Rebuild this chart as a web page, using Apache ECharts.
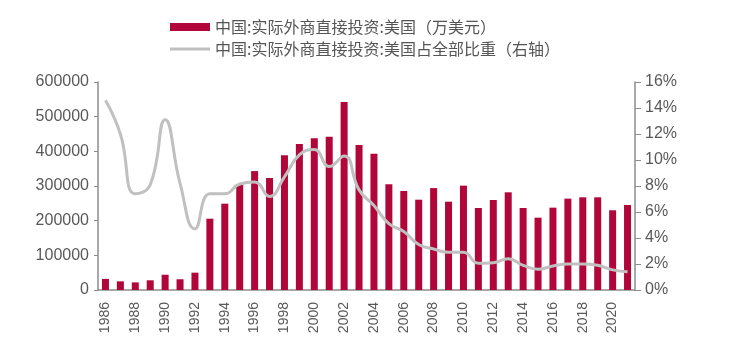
<!DOCTYPE html>
<html><head><meta charset="utf-8">
<script src="https://cdn.jsdelivr.net/npm/echarts@6/dist/echarts.min.js"></script>
<style>html,body{margin:0;padding:0;background:#fff}#c{width:743px;height:362px}</style>
</head><body><div id="c"></div>
<script>
var years = ['1986','1987','1988','1989','1990','1991','1992','1993','1994','1995','1996','1997','1998','1999','2000','2001','2002','2003','2004','2005','2006','2007','2008','2009','2010','2011','2012','2013','2014','2015','2016','2017','2018','2019','2020','2021'];
var fdiUS = [32000,25000,22000,28000,44000,31000,50000,205700,249000,305000,343000,323000,388600,421000,437600,442000,542000,418000,393000,305000,285600,260500,294000,254700,301000,236500,259600,281800,236500,208600,237500,263500,267400,267400,230000,245200];
var shareUS = [14.6,12.0,7.4,8.1,13.1,8.2,4.7,7.4,7.4,8.15,8.3,7.2,8.7,10.4,10.8,9.5,10.3,7.7,6.5,5.1,4.5,3.5,3.15,2.9,2.9,2.05,2.1,2.4,1.9,1.6,1.85,2.0,2.0,1.9,1.55,1.4];
var leftTicks = [0,100000,200000,300000,400000,500000,600000];
var rightTicks = [0,2,4,6,8,10,12,14,16];
var barName = '中国:实际外商直接投资:美国（万美元）';
var lineName = '中国:实际外商直接投资:美国占全部比重（右轴）';

var chart = echarts.init(document.getElementById('c'));
var axisColor = '#8c8c8c', labelColor = '#595959', font = 'Liberation Sans, Arial, sans-serif';
chart.setOption({
  animation: false,
  legend: [{
    left: 165, top: 14, itemWidth: 40, itemHeight: 8, icon: 'rect', itemGap: 8,
    data: [barName],
    textStyle: {fontFamily: 'Noto Sans CJK SC', fontSize: 16, color: '#555'}
  },{
    left: 165, top: 36, itemWidth: 40, itemHeight: 3, icon: 'rect', itemGap: 8,
    data: [lineName],
    textStyle: {fontFamily: 'Noto Sans CJK SC', fontSize: 16, color: '#555'}
  }],
  grid: {left: 98, right: 108, top: 82, bottom: 72},
  xAxis: {
    type: 'category', data: years, boundaryGap: true,
    axisLine: {lineStyle: {color: axisColor, width: 1.5}},
    axisTick: {interval: 1, length: 5, lineStyle: {color: axisColor}},
    axisLabel: {interval: 1, rotate: 90, margin: 12, color: labelColor, fontSize: 14, fontFamily: font}
  },
  yAxis: [{
    type: 'value', min: 0, max: leftTicks[leftTicks.length-1], interval: 100000,
    axisLine: {show: true, lineStyle: {color: axisColor, width: 1.5}},
    axisTick: {show: true, length: 4, lineStyle: {color: axisColor}},
    splitLine: {show: false},
    axisLabel: {margin: 9, color: labelColor, fontSize: 16, fontFamily: font, formatter: function(v){return String(v);}}
  },{
    type: 'value', min: 0, max: rightTicks[rightTicks.length-1], interval: 2,
    axisLine: {show: true, lineStyle: {color: axisColor, width: 1.5}},
    axisTick: {show: true, length: 6, lineStyle: {color: axisColor}},
    splitLine: {show: false},
    axisLabel: {margin: 10, color: labelColor, fontSize: 16, fontFamily: font, formatter: '{value}%'}
  }],
  series: [{
    name: barName, type: 'bar', data: fdiUS, barWidth: 7,
    itemStyle: {color: '#b0063a'}
  },{
    name: lineName, type: 'line', yAxisIndex: 1, data: shareUS, smooth: true,
    showSymbol: false, symbol: 'none',
    lineStyle: {color: '#c0c0c0', width: 3},
    itemStyle: {color: '#c0c0c0'}
  }]
});
</script></body></html>
